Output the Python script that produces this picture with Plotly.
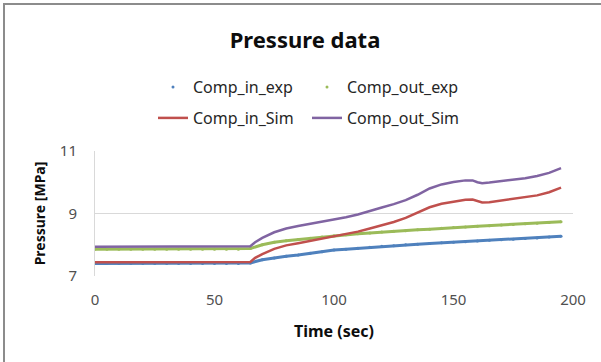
import plotly.graph_objects as go

# ---- data ----
t_exp = [0, 5, 10, 15, 20, 25, 30, 35, 40, 45, 50, 55, 60, 65, 70, 75, 80, 85, 90, 95,
         100, 105, 110, 115, 120, 125, 130, 135, 140, 145, 150, 155, 160, 165, 170, 175,
         180, 185, 190, 195]
comp_in_exp = [7.40, 7.40, 7.40, 7.40, 7.40, 7.40, 7.40, 7.40, 7.40, 7.40, 7.40, 7.40, 7.40,
               7.42, 7.52, 7.58, 7.63, 7.67, 7.73, 7.78, 7.83, 7.86, 7.89, 7.92, 7.95, 7.97,
               8.00, 8.02, 8.04, 8.06, 8.08, 8.10, 8.12, 8.14, 8.16, 8.18, 8.20, 8.22, 8.25, 8.27]
comp_out_exp = [7.86, 7.86, 7.86, 7.86, 7.86, 7.86, 7.86, 7.86, 7.86, 7.86, 7.86, 7.86, 7.86,
                7.88, 8.00, 8.08, 8.13, 8.17, 8.21, 8.25, 8.29, 8.32, 8.35, 8.38, 8.41, 8.43,
                8.45, 8.48, 8.50, 8.53, 8.55, 8.57, 8.59, 8.61, 8.63, 8.65, 8.67, 8.69, 8.71, 8.74]

t_sim = [0, 10, 20, 30, 40, 50, 60, 65, 67, 70, 75, 80, 85, 90, 95, 100, 105, 110, 115, 120,
         125, 130, 135, 140, 145, 150, 155, 158, 160, 162, 165, 170, 175, 180, 185, 190, 195]
comp_in_sim = [7.44, 7.44, 7.44, 7.44, 7.44, 7.44, 7.44, 7.45, 7.58, 7.70, 7.87, 7.98, 8.05,
               8.12, 8.19, 8.26, 8.33, 8.42, 8.52, 8.62, 8.73, 8.86, 9.04, 9.20, 9.31, 9.38,
               9.44, 9.45, 9.40, 9.35, 9.36, 9.41, 9.46, 9.52, 9.58, 9.68, 9.83]
comp_out_sim = [7.94, 7.94, 7.94, 7.94, 7.94, 7.94, 7.94, 7.95, 8.08, 8.22, 8.40, 8.52, 8.60,
                8.67, 8.73, 8.80, 8.88, 8.97, 9.07, 9.19, 9.30, 9.43, 9.60, 9.80, 9.93, 10.01,
                10.06, 10.06, 10.00, 9.97, 9.99, 10.03, 10.07, 10.13, 10.20, 10.30, 10.45]

x_ticks = [0, 50, 100, 150, 200]
y_ticks = [7, 9, 11]

BLUE = "#4F81BD"
GREEN = "#9BBB59"
RED = "#C0504D"
PURPLE = "#8064A2"
FONT = "Noto Sans"

fig = go.Figure()

# experimental data (dense points)
fig.add_trace(go.Scatter(x=t_exp, y=comp_in_exp, mode="lines+markers", name="Comp_in_exp",
                         line=dict(color=BLUE, width=3), marker=dict(color=BLUE, size=3),
                         showlegend=False))
fig.add_trace(go.Scatter(x=t_exp, y=comp_out_exp, mode="lines+markers", name="Comp_out_exp",
                         line=dict(color=GREEN, width=3), marker=dict(color=GREEN, size=3),
                         showlegend=False))
fig.add_trace(go.Scatter(x=t_sim, y=comp_in_sim, mode="lines", name="Comp_in_Sim",
                         line=dict(color=RED, width=2.5), legend="legend2"))
fig.add_trace(go.Scatter(x=t_sim, y=comp_out_sim, mode="lines", name="Comp_out_Sim",
                         line=dict(color=PURPLE, width=2.5), legend="legend2"))
# legend entries for experimental series (markers only)
fig.add_trace(go.Scatter(x=[None], y=[None], mode="markers", name="Comp_in_exp",
                         marker=dict(color=BLUE, size=3), legend="legend"))
fig.add_trace(go.Scatter(x=[None], y=[None], mode="markers", name="Comp_out_exp",
                         marker=dict(color=GREEN, size=3), legend="legend"))

L, R, T, B = 95, 28, 151, 86
W, H = 601, 362
pw, ph = W - L - R, H - T - B

def px_x(px):
    return (px - L) / pw

def px_y(py):
    return (H - B - py) / ph

legend_common = dict(orientation="h", xanchor="left", yanchor="middle",
                     font=dict(family=FONT, size=16, color="#262626"),
                     bgcolor="rgba(0,0,0,0)", entrywidthmode="pixels", entrywidth=109,
                     itemwidth=30, tracegroupgap=0)

fig.update_layout(
    width=W, height=H,
    margin=dict(l=L, r=R, t=T, b=B),
    paper_bgcolor="white", plot_bgcolor="white",
    title=dict(text="<b>Pressure data</b>", x=px_x(305), xref="paper", xanchor="center",
               y=1 - 40 / H, yanchor="middle",
               font=dict(family=FONT, size=22, color="#0d0d0d")),
    legend=dict(x=px_x(153), y=px_y(87), **legend_common),
    legend2=dict(x=px_x(153), y=px_y(118), **legend_common),
    xaxis=dict(range=[0, 200], tickvals=x_ticks, showgrid=False, zeroline=False,
               showline=False, ticks="", ticklabelstandoff=13,
               tickfont=dict(family=FONT, size=15, color="#505050"),
               title=dict(text="<b>Time (sec)</b>", standoff=17,
                          font=dict(family=FONT, size=16, color="#0d0d0d"))),
    yaxis=dict(range=[7, 11], tickvals=y_ticks, showgrid=True, gridcolor="#D9D9D9",
               gridwidth=1, zeroline=False, showline=True, linecolor="#D9D9D9",
               linewidth=1, ticks="", ticklabelstandoff=14,
               tickfont=dict(family=FONT, size=15, color="#505050"),
               title=dict(text="<b>Pressure [MPa]</b>", standoff=10,
                          font=dict(family=FONT, size=14, color="#0d0d0d"))),
    shapes=[
        dict(type="line", xref="paper", yref="paper", x0=px_x(4), x1=px_x(4),
             y0=px_y(3), y1=px_y(H + 5), line=dict(color="#8C8C8C", width=2)),
        dict(type="line", xref="paper", yref="paper", x0=px_x(3), x1=px_x(W + 5),
             y0=px_y(4), y1=px_y(4), line=dict(color="#8C8C8C", width=2)),
    ],
)

fig.write_html("out.html", config={"displayModeBar": False},
               post_script="document.body.style.margin='0';document.body.style.overflow='hidden';")
